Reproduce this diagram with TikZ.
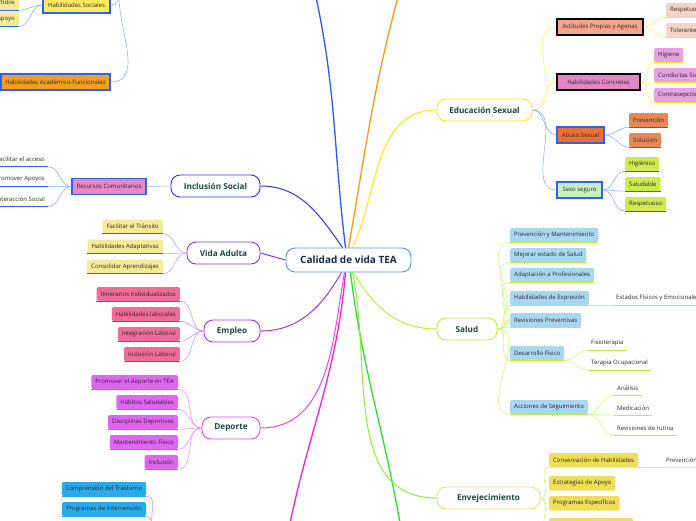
\documentclass[tikz,border=0pt]{standalone}
\usepackage{fontspec}
\setmainfont{Open Sans}

\definecolor{ideaedge}{RGB}{85,155,215}
\definecolor{ideatext}{RGB}{25,40,75}
\definecolor{topictext}{RGB}{25,72,60}
\definecolor{hojatext}{RGB}{45,40,40}
% ramas principales
\definecolor{incl}{RGB}{50,50,235}
\definecolor{vida}{RGB}{135,55,235}
\definecolor{empl}{RGB}{170,50,230}
\definecolor{depo}{RGB}{235,70,235}
\definecolor{edus}{RGB}{255,235,0}
\definecolor{salu}{RGB}{190,240,50}
\definecolor{enve}{RGB}{240,225,120}
\definecolor{envelink}{RGB}{140,235,70}
\definecolor{azulrama}{RGB}{40,90,250}
\definecolor{naranjarama}{RGB}{255,150,20}
\definecolor{magentarama}{RGB}{255,30,200}
\definecolor{verderama}{RGB}{40,225,40}
% hojas
\definecolor{azulsub}{RGB}{40,100,240}
\definecolor{azulenlace}{RGB}{130,170,250}
\definecolor{amarillopalido}{RGB}{245,235,150}
\definecolor{rosaempleo}{RGB}{240,108,152}
\definecolor{lilaempleo}{RGB}{200,140,245}
\definecolor{violetadep}{RGB}{222,102,240}
\definecolor{rosadep}{RGB}{240,130,240}
\definecolor{lilavida}{RGB}{190,150,245}
\definecolor{rosarec}{RGB}{230,135,205}
\definecolor{naranjahab}{RGB}{240,160,30}
\definecolor{amarillohab}{RGB}{255,232,100}
\definecolor{azulcaja}{RGB}{40,170,235}
\definecolor{salmon}{RGB}{245,165,140}
\definecolor{salmonpalido}{RGB}{245,212,200}
\definecolor{rosacon}{RGB}{225,135,200}
\definecolor{lilacon}{RGB}{230,160,230}
\definecolor{naranjaabu}{RGB}{235,110,50}
\definecolor{naranjaclaro}{RGB}{232,135,85}
\definecolor{verdeclaro}{RGB}{200,240,200}
\definecolor{lima}{RGB}{205,235,80}
\definecolor{amarilloenlace}{RGB}{255,240,110}
\definecolor{celeste}{RGB}{170,215,240}
\definecolor{limaenlace}{RGB}{205,245,120}
\definecolor{amarilloenv}{RGB}{238,222,90}

\tikzset{
  idea/.style={draw=ideaedge, line width=0.9pt, rounded corners=9pt, fill=white,
    minimum width=125pt, minimum height=24pt, text=ideatext,
    font=\fontsize{10}{12}\selectfont\bfseries},
  topic/.style={draw=#1, line width=0.9pt, rounded corners=9pt, fill=white,
    minimum height=22pt, text=topictext, font=\fontsize{8.2}{10}\selectfont\bfseries},
  hoja/.style={fill=#1, rounded corners=1.5pt, minimum height=14pt, inner xsep=4pt,
    inner ysep=0pt, text=hojatext, font=\fontsize{6}{7}\selectfont},
  caja/.style={hoja=#1, rounded corners=0pt, line width=1.4pt, minimum height=16pt},
  texto/.style={minimum height=14pt, inner xsep=3pt, inner ysep=0pt, text=hojatext,
    font=\fontsize{6}{7}\selectfont},
  rama/.style={line width=1.3pt, draw=#1},
  enlace/.style={line width=0.5pt, draw=#1},
  subrayado/.style={line width=1.3pt, draw=#1}
}

\begin{document}
\begin{tikzpicture}[x=1pt,y=1pt]
\useasboundingbox (0,0) rectangle (696,-520);

% idea central
\node[idea] (tea) at (348.5,-260) {Calidad de vida TEA};

% ramas principales
\node[topic=incl, minimum width=89pt] (inc) at (215.5,-186) {Inclusión Social};
\node[topic=vida, minimum width=73pt] (vid) at (223.5,-253) {Vida Adulta};
\node[topic=empl, minimum width=56pt] (emp) at (232,-331) {Empleo};
\node[topic=depo, minimum width=58pt] (dep) at (231,-428) {Deporte};
\node[topic=edus, minimum width=95pt] (edu) at (484.5,-110) {Educación Sexual};
\node[topic=salu, minimum width=60pt] (sal) at (467,-329) {Salud};
\node[topic=enve, minimum width=103pt] (env) at (488.5,-498) {Envejecimiento};

% ramas que salen del dibujo
\coordinate (arribaA) at (316,3);
\coordinate (arribaB) at (398,3);
\coordinate (abajoA) at (290,-523);
\coordinate (abajoB) at (400,-523);

\draw[rama=azulrama] ([xshift=-3pt]tea.north) to[out=97,in=-78] (arribaA);
\draw[rama=naranjarama] ([xshift=0pt]tea.north) to[out=80,in=-105] (arribaB);
\draw[rama=magentarama] ([xshift=-3pt]tea.south) to[out=-95,in=78] (abajoA);
\draw[rama=verderama] ([xshift=2pt]tea.south) to[out=-83,in=100] (abajoB);

\draw[rama=incl, line width=1pt] ([xshift=-6pt]tea.north) to[out=125,in=0] (inc.east);
\draw[rama=vida, line width=1pt] (tea.west) -- (vid.east);
\draw[rama=empl, line width=1pt] ([xshift=-7pt]tea.south) to[out=-120,in=0] (emp.east);
\draw[rama=depo, line width=1pt] ([xshift=-4pt]tea.south) to[out=-100,in=0] (dep.east);
\draw[rama=edus, line width=1pt] ([xshift=4pt]tea.north) to[out=65,in=180] (edu.west);
\draw[rama=salu, line width=1pt] ([xshift=5pt]tea.south) to[out=-60,in=180] (sal.west);
\draw[rama=envelink, line width=1pt] ([xshift=4pt]tea.south) to[out=-78,in=180] (env.west);

% Habilidades (rama azul de arriba)
\coordinate (hpadre) at (119,3);
\node[caja=amarillohab, draw=azulsub, minimum width=67pt] (hs) at (76.5,-5) {Habilidades Sociales};
\node[caja=naranjahab, draw=azulsub, minimum width=109pt] (hac) at (55.5,-82) {Habilidades Académico-Funcionales};
\draw[enlace=azulenlace] (hs.east) to[out=0,in=-90] (hpadre);
\draw[enlace=azulenlace] (hac.east) to[out=0,in=-90] (hpadre);
\node[hoja=amarillopalido, anchor=east] (hs1) at (19,-3) {Juegos compartidos};
\node[hoja=amarillopalido, anchor=east] (hs2) at (19,-19) {Grupos de apoyo};
\foreach \n in {hs1,hs2}{
  \draw[enlace=azulenlace] (hs.west) to[out=180,in=0] (\n.south east);
  \draw[subrayado=azulsub] (\n.south west) -- (\n.south east);
}

% Inclusión Social
\node[caja=rosarec, draw=azulsub, minimum width=74pt] (rec) at (109,-186.5) {Recursos Comunitarios};
\draw[enlace=azulenlace] (inc.west) -- (rec.east);
\node[texto, anchor=east] (rec1) at (48,-159.5) {Facilitar el acceso};
\node[texto, anchor=east] (rec2) at (48,-179.5) {Promover Apoyos};
\node[texto, anchor=east] (rec3) at (48,-199.5) {Interacción Social};
\foreach \n in {rec1,rec2,rec3}{
  \draw[enlace=azulenlace] (rec.west) to[out=180,in=0] (\n.south east);
  \draw[subrayado=azulsub] ([xshift=-5pt]\n.south west) -- (\n.south east);
}

% Vida Adulta
\node[hoja=amarillopalido, anchor=east] (vid1) at (163,-226.5) {Facilitar el Tránsito};
\node[hoja=amarillopalido, anchor=east] (vid2) at (163,-246.5) {Habilidades Adaptativas};
\node[hoja=amarillopalido, anchor=east] (vid3) at (163,-266.5) {Consolidar Aprendizajes};
\foreach \n in {vid1,vid2,vid3}{
  \draw[enlace=lilavida] (vid.west) to[out=180,in=0] (\n.south east);
  \draw[subrayado=vida] (\n.south west) -- (\n.south east);
}

% Empleo
\node[hoja=rosaempleo, anchor=east] (emp1) at (180,-294) {Itinerarios Individualizados};
\node[hoja=rosaempleo, anchor=east] (emp2) at (180,-314) {Habilidades laborales};
\node[hoja=rosaempleo, anchor=east] (emp3) at (180,-334) {Integración Laboral};
\node[hoja=rosaempleo, anchor=east] (emp4) at (180,-354) {Inclusión Laboral};
\foreach \n in {emp1,emp2,emp3,emp4}{
  \draw[enlace=lilaempleo] (emp.west) to[out=180,in=0] (\n.south east);
  \draw[subrayado=empl] (\n.south west) -- (\n.south east);
}

% Deporte
\node[hoja=violetadep, anchor=east] (dep1) at (178,-382) {Promover el deporte en TEA};
\node[hoja=violetadep, anchor=east] (dep2) at (178,-402) {Hábitos Saludables};
\node[hoja=violetadep, anchor=east] (dep3) at (178,-422) {Disciplinas Deportivas};
\node[hoja=violetadep, anchor=east] (dep4) at (178,-442) {Mantenimiento Físico};
\node[hoja=violetadep, anchor=east] (dep5) at (178,-462) {Inclusión};
\foreach \n in {dep1,dep2,dep3,dep4,dep5}{
  \draw[enlace=rosadep] (dep.west) to[out=180,in=0] (\n.south east);
  \draw[subrayado=depo] (\n.south west) -- (\n.south east);
}

% rama magenta (abajo)
\coordinate (bpadre) at (152,-524);
\node[hoja=azulcaja, minimum width=84pt] (tr1) at (104,-489) {Comprensión del Trastorno};
\node[hoja=azulcaja, minimum width=84pt] (tr2) at (104,-509) {Programas de Intervención};
\foreach \n in {tr1,tr2}{
  \draw[enlace=rosadep] (bpadre) to[out=100,in=0] (\n.south east);
  \draw[subrayado=azulcaja] (\n.south west) -- (\n.south east);
}

% Educación Sexual
\node[caja=salmon, draw=black, minimum width=86pt] (act) at (600,-27) {Actitudes Propias y Agenas};
\node[caja=rosacon, draw=black, minimum width=83pt] (hco) at (598.5,-82) {Habilidades Concretas};
\node[caja=naranjaabu, draw=azulsub, minimum width=47pt] (abu) at (580.5,-135) {Abuso Sexual};
\node[caja=verdeclaro, draw=azulsub, minimum width=45pt] (sex) at (579.5,-190) {Sexo seguro};
\draw[enlace=amarilloenlace] (edu.east) to[out=0,in=180] (act.west);
\draw[enlace=amarilloenlace] (edu.east) to[out=0,in=180] (hco.west);
\draw[enlace=azulenlace] (edu.east) to[out=0,in=180] (abu.west);
\draw[enlace=azulenlace] (edu.east) to[out=0,in=180] (sex.west);

\node[hoja=salmonpalido, anchor=west] (act1) at (666,-10) {Respetuoso};
\node[hoja=salmonpalido, anchor=west] (act2) at (666,-30) {Tolerante};
\foreach \n in {act1,act2}{
  \draw[enlace=amarilloenlace] (act.east) to[out=0,in=180] (\n.south west);
  \draw[subrayado=edus] (\n.south west) -- (\n.south east);
}
\node[hoja=lilacon, anchor=west] (hco1) at (654,-55) {Higiene};
\node[hoja=lilacon, anchor=west] (hco2) at (654,-75) {Conductas Sociales};
\node[hoja=lilacon, anchor=west] (hco3) at (654,-95) {Contrasepción};
\foreach \n in {hco1,hco2,hco3}{
  \draw[enlace=amarilloenlace] (hco.east) to[out=0,in=180] (\n.south west);
  \draw[subrayado=edus] (\n.south west) -- (\n.south east);
}
\node[hoja=naranjaclaro, anchor=west] (abu1) at (629,-120) {Prevención};
\node[hoja=naranjaclaro, anchor=west] (abu2) at (629,-140) {Solución};
\foreach \n in {abu1,abu2}{
  \draw[enlace=azulenlace] (abu.east) to[out=0,in=180] (\n.south west);
  \draw[subrayado=azulsub] (\n.south west) -- (\n.south east);
}
\node[hoja=lima, anchor=west] (sex1) at (625,-164) {Higiénico};
\node[hoja=lima, anchor=west] (sex2) at (625,-184) {Saludable};
\node[hoja=lima, anchor=west] (sex3) at (625,-204) {Respetuoso};
\foreach \n in {sex1,sex2,sex3}{
  \draw[enlace=azulenlace] (sex.east) to[out=0,in=180] (\n.south west);
  \draw[subrayado=azulsub] (\n.south west) -- (\n.south east);
}

% Salud
\node[hoja=celeste, anchor=west] (sal1) at (510,-235) {Prevención y  Mantenimiento};
\node[hoja=celeste, anchor=west] (sal2) at (510,-255) {Mejorar estado de Salud};
\node[hoja=celeste, anchor=west] (sal3) at (510,-275) {Adaptación a Profesionales};
\node[hoja=celeste, anchor=west] (sal4) at (510,-298) {Habilidades de Expresión};
\node[hoja=celeste, anchor=west] (sal5) at (510,-320) {Revisiones Preventivas};
\node[hoja=celeste, anchor=west] (sal6) at (510,-353) {Desarrollo Físico};
\node[hoja=celeste, anchor=west] (sal7) at (510,-407) {Acciones de Seguimiento};
\foreach \n in {sal1,sal2,sal3,sal4,sal5,sal6,sal7}{
  \draw[enlace=limaenlace] (sal.east) to[out=0,in=180] (\n.south west);
  \draw[subrayado=salu] (\n.south west) -- (\n.south east);
}
\node[texto, anchor=west, inner xsep=4pt] (salA) at (612,-298) {Estados Físicos y Emocionales};
\draw[enlace=limaenlace] (sal4.south east) -- (salA.south west);
\draw[subrayado=salu] (salA.south west) -- (salA.south east);

\node[texto, anchor=west] (fis1) at (588,-343) {Fisioterapia};
\node[texto, anchor=west] (fis2) at (588,-363) {Terapia Ocupacional};
\foreach \n in {fis1,fis2}{
  \draw[enlace=limaenlace] (sal6.south east) to[out=0,in=180] (\n.south west);
  \draw[subrayado=salu] (\n.south west) -- (\n.south east);
}
\node[texto, anchor=west] (seg1) at (614,-388) {Análisis};
\node[texto, anchor=west] (seg2) at (614,-408) {Medicación};
\node[texto, anchor=west] (seg3) at (614,-428) {Revisiones de rutina};
\foreach \n in {seg1,seg2,seg3}{
  \draw[enlace=limaenlace] (sal7.south east) to[out=0,in=180] (\n.south west);
  \draw[subrayado=salu] (\n.south west) -- (\n.south east);
}

% Envejecimiento
\node[hoja=amarilloenv, anchor=west] (env1) at (549,-460) {Conservación de Habilidades};
\node[hoja=amarilloenv, anchor=west] (env2) at (549,-483) {Estrategias de Apoyo};
\node[hoja=amarilloenv, anchor=west] (env3) at (549,-503) {Programas Específicos};
\node[hoja=amarilloenv, anchor=west, minimum width=84pt] (env4) at (549,-525) {};
\foreach \n in {env1,env2,env3,env4}{
  \draw[enlace=limaenlace] (env.east) to[out=0,in=180] (\n.south west);
  \draw[subrayado=amarillopalido] (\n.south west) -- (\n.south east);
}
\node[texto, anchor=west] (envA) at (663,-460) {Prevención};
\draw[enlace=limaenlace] (env1.south east) -- (envA.south west);
\draw[subrayado=amarillopalido] (envA.south west) -- ([xshift=20pt]envA.south east);
\end{tikzpicture}
\end{document}
